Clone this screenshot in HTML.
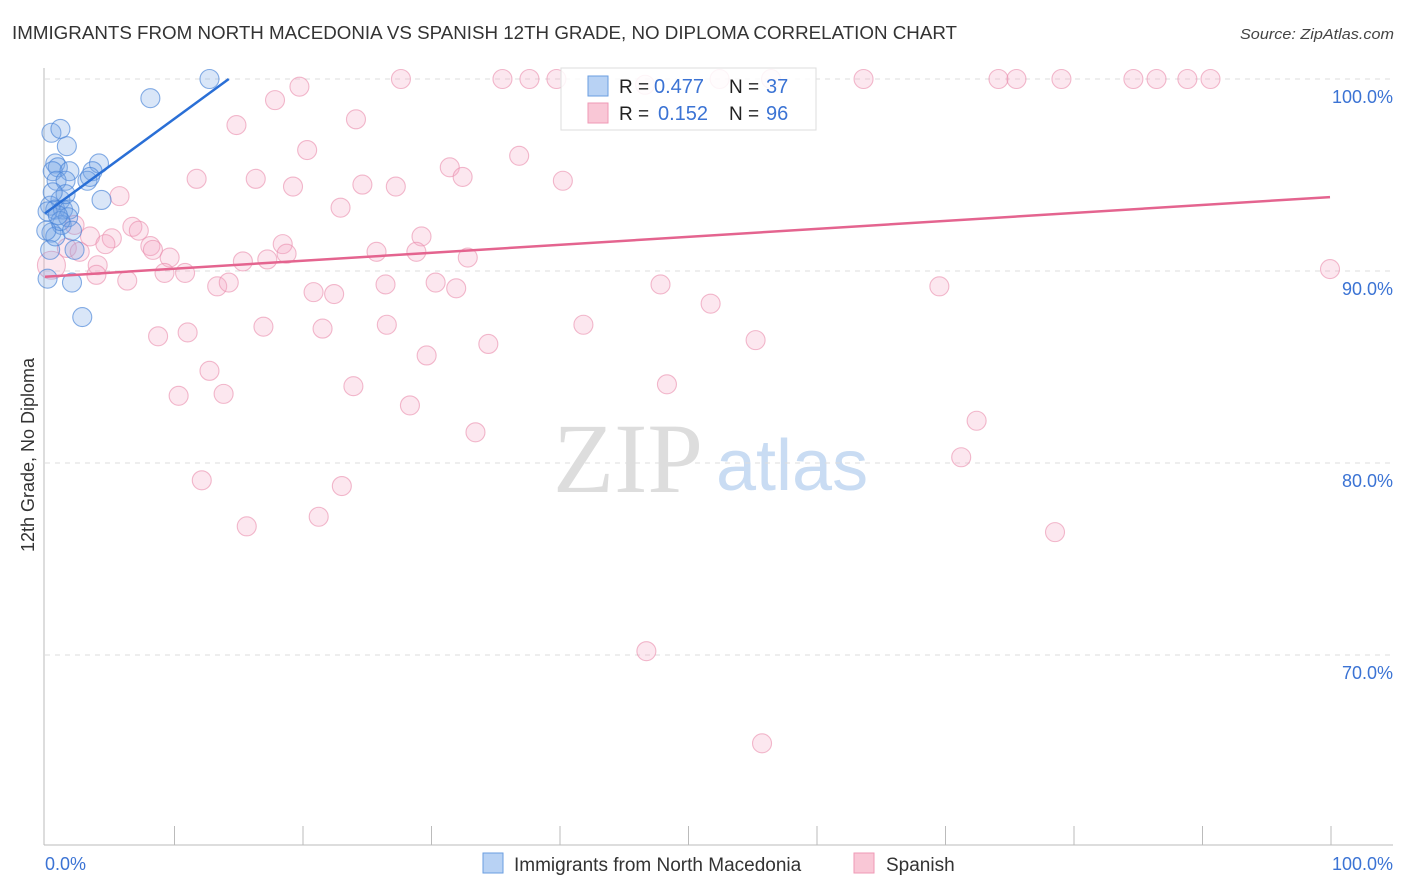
<!DOCTYPE html>
<html><head><meta charset="utf-8"><style>
body{margin:0;background:#fff;font-family:"Liberation Sans",sans-serif;}
svg{display:block}
</style></head><body>
<svg id="chart" width="1406" height="892" xmlns="http://www.w3.org/2000/svg">
<text x="12" y="39" font-size="18.6" fill="#333" textLength="945" lengthAdjust="spacingAndGlyphs">IMMIGRANTS FROM NORTH MACEDONIA VS SPANISH 12TH GRADE, NO DIPLOMA CORRELATION CHART</text>
<text x="1394" y="39" font-size="15" font-style="italic" fill="#444" text-anchor="end" textLength="154" lengthAdjust="spacingAndGlyphs">Source: ZipAtlas.com</text>
<text x="553" y="492" font-size="100" font-family="Liberation Serif,serif" fill="#ddd">ZIP</text>
<text x="716" y="490" font-size="72" fill="#c9dcf3">atlas</text>
<g id="grid"></g>
<g id="marks"></g>
<text transform="translate(34,455) rotate(-90)" font-size="18" fill="#333" text-anchor="middle">12th Grade, No Diploma</text>
<text x="45" y="870" font-size="18" fill="#3b73d4">0.0%</text>
<text x="1393" y="870" font-size="18" fill="#3b73d4" text-anchor="end">100.0%</text>
<g>
<rect x="561" y="68" width="255" height="62" fill="rgba(255,255,255,0.85)" stroke="#ddd"/>
<rect x="588" y="76" width="20" height="20" fill="#b8d2f4" stroke="#6a9ee0"/>
<rect x="588" y="103" width="20" height="20" fill="#f9c7d6" stroke="#ef9ab6"/>
<text x="619" y="93" font-size="19" fill="#222">R =</text><text x="654" y="93" font-size="20" fill="#3b73d4">0.477</text>
<text x="729" y="93" font-size="19" fill="#222">N =</text><text x="766" y="93" font-size="20" fill="#3b73d4">37</text>
<text x="619" y="120" font-size="19" fill="#222">R =</text><text x="658" y="120" font-size="20" fill="#3b73d4">0.152</text>
<text x="729" y="120" font-size="19" fill="#222">N =</text><text x="766" y="120" font-size="20" fill="#3b73d4">96</text>
</g>
<g>
<rect x="483" y="853" width="20" height="20" fill="#b8d2f4" stroke="#6a9ee0"/>
<text x="514" y="871" font-size="19" fill="#333">Immigrants from North Macedonia</text>
<rect x="854" y="853" width="20" height="20" fill="#f9c7d6" stroke="#ef9ab6"/>
<text x="886" y="871" font-size="19" fill="#333">Spanish</text>
</g>
</svg>
<script>
const yTicks=[100,90,80,70];
const yTickLabels=["100.0%","90.0%","80.0%","70.0%"];
const xTicks=[0,10,20,30,40,50,60,70,80,90,100];
const blueX=[12.8,8.2,0.5,1.2,1.7,0.8,1.0,0.6,1.9,4.2,3.7,3.3,0.9,1.6,4.4,1.2,0.4,0.8,1.4,1.9,0.2,0.5,1.3,1.8,2.3,0.4,0.8,2.1,0.2,2.9,1.2,1.0,0.1,1.6,3.5,0.6,2.1];
const blueY=[100,99.0,97.2,97.4,96.5,95.6,95.4,95.2,95.2,95.6,95.2,94.7,94.7,94.7,93.7,93.7,93.4,93.2,93.2,93.2,93.1,92.0,92.4,92.8,91.1,91.1,91.8,89.4,89.6,87.6,92.6,92.9,92.1,94.0,94.9,94.1,92.1];
const pinkX=[27.7,35.6,37.7,39.8,56.5,63.7,74.2,75.6,79.1,84.7,86.5,88.9,90.7,46.7,52.5,19.8,17.9,14.9,24.2,20.4,36.9,11.8,16.4,19.3,24.7,27.3,31.5,32.5,40.3,5.8,23.0,6.8,7.3,5.2,3.5,2.3,1.7,2.7,4.7,8.2,8.4,9.7,15.4,17.3,18.5,18.8,25.8,29.3,28.9,32.9,4.1,4.0,6.4,9.3,10.9,13.4,14.3,20.9,22.5,26.5,30.4,32.0,47.9,51.8,69.6,100,8.8,11.1,17.0,21.6,26.6,34.5,41.9,55.3,29.7,12.8,10.4,13.9,24.0,48.4,28.4,33.5,72.5,71.3,12.2,23.1,15.7,21.3,78.6,46.8,55.8,0.5];
const pinkY=[100,100,100,100,100,100,100,100,100,100,100,100,100,99.7,100,99.6,98.9,97.6,97.9,96.3,96.0,94.8,94.8,94.4,94.5,94.4,95.4,94.9,94.7,93.9,93.3,92.3,92.1,91.7,91.8,92.4,91.2,91.0,91.4,91.3,91.1,90.7,90.5,90.6,91.4,90.9,91.0,91.8,91.0,90.7,90.3,89.8,89.5,89.9,89.9,89.2,89.4,88.9,88.8,89.3,89.4,89.1,89.3,88.3,89.2,90.1,86.6,86.8,87.1,87.0,87.2,86.2,87.2,86.4,85.6,84.8,83.5,83.6,84.0,84.1,83.0,81.6,82.2,80.3,79.1,78.8,76.7,77.2,76.4,70.2,65.4,90.3];
const blueLine=[[0,93.0],[14.3,100]];
const pinkLine=[[0,89.7],[100,93.85]];
const NS="http://www.w3.org/2000/svg";
const sx=v=>45+v*12.85, sy=v=>79+(100-v)*19.2;
const grid=document.getElementById('grid'), marks=document.getElementById('marks');
function mk(tag,attrs,parent){const e=document.createElementNS(NS,tag);for(const k in attrs)e.setAttribute(k,attrs[k]);parent.appendChild(e);return e;}
yTicks.forEach((t,i)=>{
 const l=mk('line',{x1:45,x2:1393,y1:sy(t),y2:sy(t),stroke:'#ddd','stroke-dasharray':'5,5'},grid);
 
 
 const tx=mk('text',{x:1393,y:sy(t)+24,'font-size':18,fill:'#3b73d4','text-anchor':'end'},grid);
 tx.textContent=yTickLabels[i];
 
 
});
const ax=mk('line',{x1:44,x2:44,y1:68,y2:845,stroke:'#bbb'},grid);


const bx=mk('line',{x1:44,x2:1393,y1:845,y2:845,stroke:'#bbb'},grid);


xTicks.forEach(t=>{if(t===0)return;
 const l=mk('line',{x1:sx(t)+1,x2:sx(t)+1,y1:826,y2:845,stroke:'#bbb'},grid);
 
 
});
pinkX.forEach((x,i)=>{
 const c=mk('circle',{cx:sx(x),cy:sy(pinkY[i]),r:(i===pinkX.length-1)?14:9.5,fill:'rgba(246,170,196,0.28)',stroke:'rgba(234,140,172,0.6)','stroke-width':1.1},marks);
 
 
});
blueX.forEach((x,i)=>{
 const c=mk('circle',{cx:sx(x),cy:sy(blueY[i]),r:9.5,fill:'rgba(120,165,230,0.28)',stroke:'rgba(70,130,215,0.65)','stroke-width':1.1},marks);
 
 
});
const pl=mk('line',{x1:sx(pinkLine[0][0]),y1:sy(pinkLine[0][1]),x2:sx(pinkLine[1][0]),y2:sy(pinkLine[1][1]),stroke:'#e4648f','stroke-width':2.5},marks);


const bl=mk('line',{x1:sx(blueLine[0][0]),y1:sy(blueLine[0][1]),x2:sx(blueLine[1][0]),y2:sy(blueLine[1][1]),stroke:'#2a6fd6','stroke-width':2.5},marks);


</script>
</body></html>
